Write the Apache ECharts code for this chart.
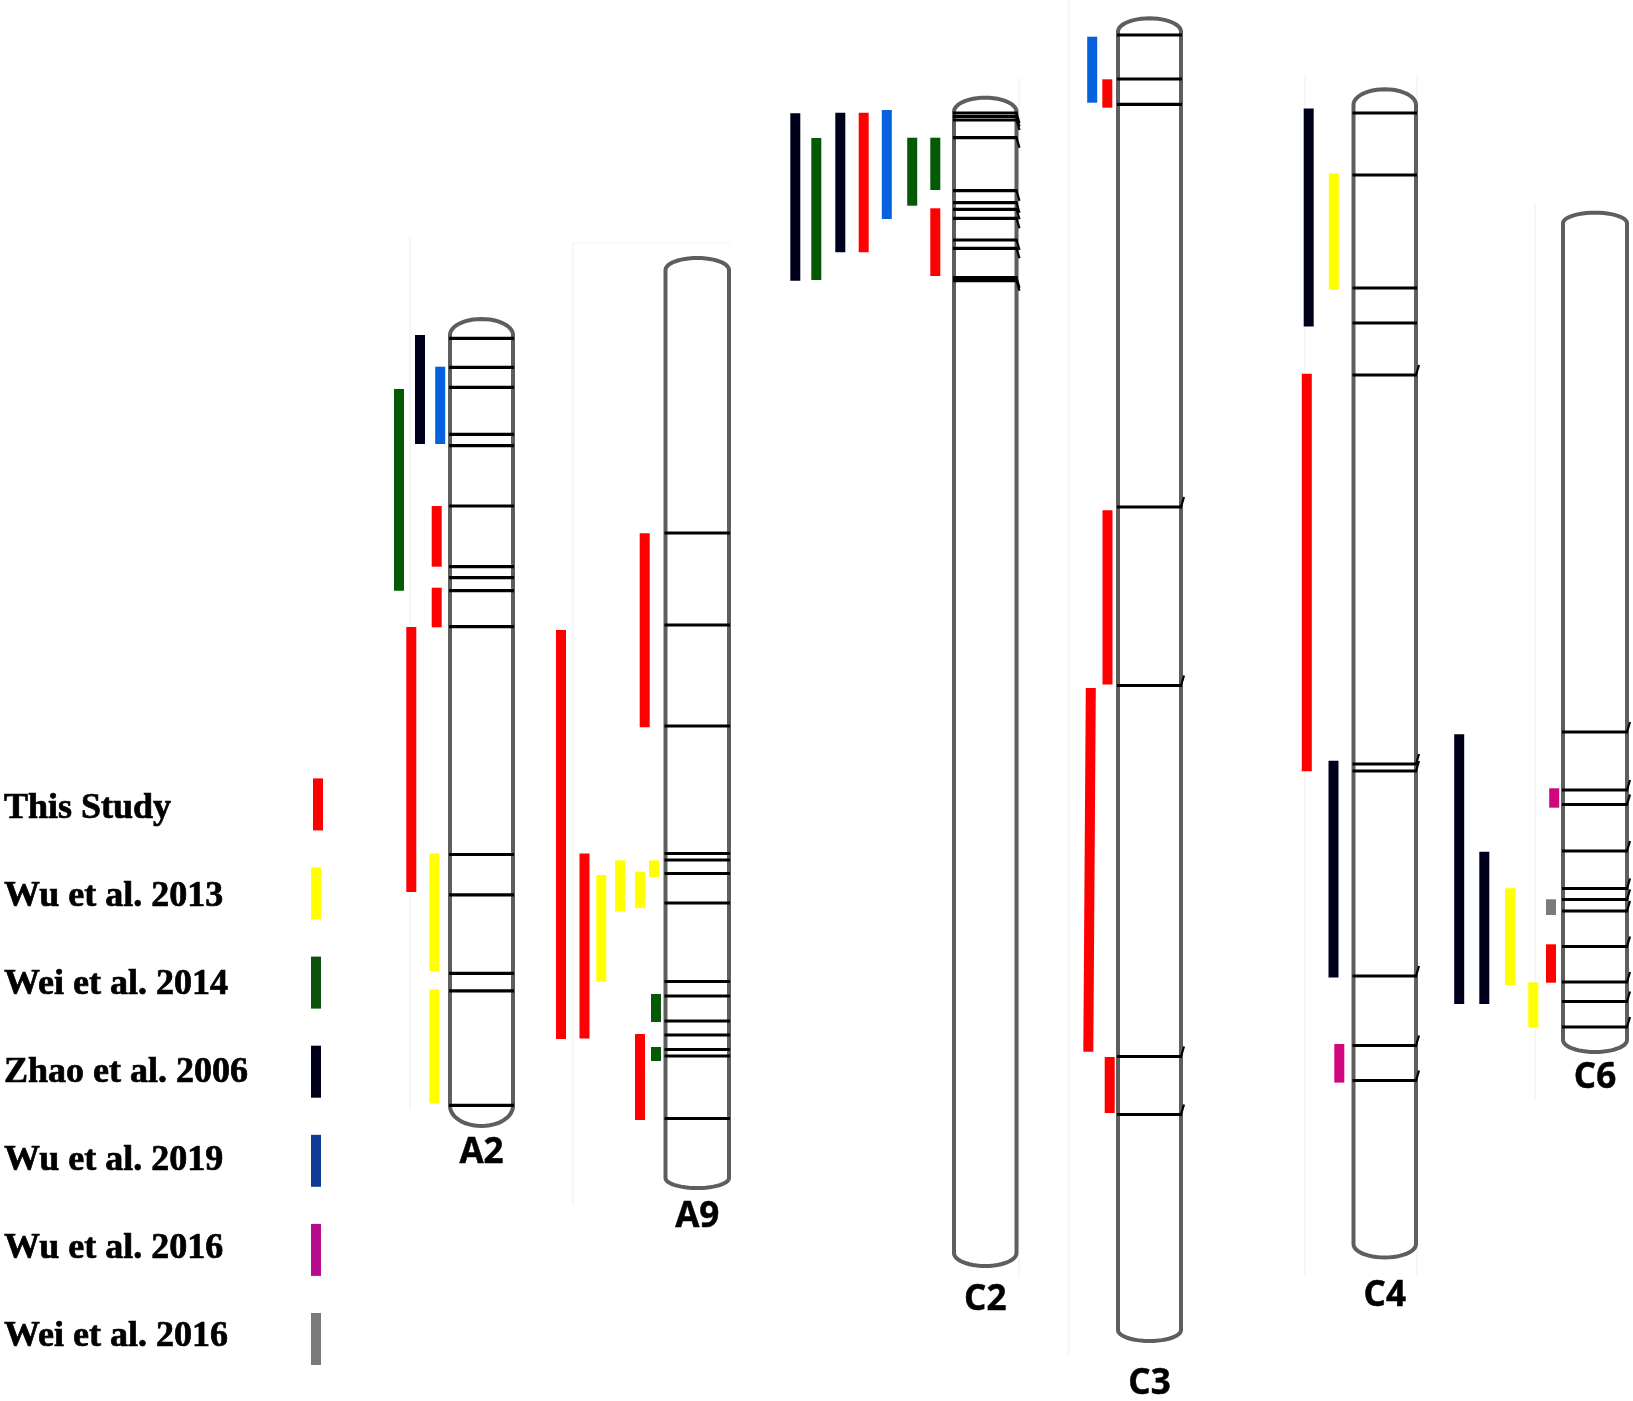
<!DOCTYPE html>
<html><head><meta charset="utf-8">
<script src="https://cdn.jsdelivr.net/npm/echarts@6/dist/echarts.min.js"></script>
<style>html,body{margin:0;padding:0;background:#fff}#c{width:1633px;height:1401px}</style>
</head><body><div id="c"></div>
<script>
// ---- legend / studies ----
const studies = ['This Study','Wu et al. 2013','Wei et al. 2014','Zhao et al. 2006','Wu et al. 2019','Wu et al. 2016','Wei et al. 2016'];
const legendColors = ['#ff0000','#ffff00','#0a520a','#00001c','#0d3c94','#b80b8e','#7a7a7a'];
const barColors    = ['#ff0000','#ffff00','#045a04','#00001c','#0661dc','#d1067f','#7a7a7a'];

// ---- chromosomes (map units along y, track units along x) ----
const chromNames  = ['A2','A9','C2','C3','C4','C6'];
const chromLeft   = [450, 665.5, 954, 1118, 1353.5, 1563];
const chromRight  = [513, 729, 1016.5, 1181, 1416, 1627];
const capTop      = [319, 258, 97.7, 18.3, 89.3, 212.7];
const armTop      = [335, 270, 111.7, 31.7, 104.8, 223.3];
const armBottom   = [1106, 1178, 1253, 1330, 1244, 1040];
const capBottom   = [1126, 1188, 1266, 1341, 1257.5, 1052];
const labelPos    = [1153, 1217, 1300, 1384, 1296, 1078];

// ---- marker bands ----
const bandsA2 = [338.3, 367.3, 387.3, 434.3, 445.7, 506, 566.7, 577.7, 590.7, 626.7, 854.5, 894.8, 973.4, 990.9, 1105.3];
const bandsA9 = [533, 625, 726, 853.5, 860, 873.5, 903, 981.5, 996, 1021, 1035, 1049.5, 1056, 1118.5];
const bandsC2 = [113, 116.5, 120, 137.7, 190.7, 202.7, 209.3, 218.3, 240, 248.3, 277.7, 280.7];
const bandsC3 = [35, 79, 104.3, 507, 685.5, 1056.5, 1114.5];
const bandsC4 = [113, 175, 288, 323, 375, 764, 771, 976, 1045.5, 1080.5];
const bandsC6 = [732, 790, 804.5, 851, 888.5, 899.5, 911, 946.5, 982, 1001.5, 1027];

// ---- QTL intervals: [study, track, start, end, (track at end)] ----
const qtlA2 = [[3,420,335,444],[4,440.2,366.7,444],[2,399,389,590.7],[0,436.7,506,566.7],[0,436.7,587.7,627.3],[0,411.3,627,892],[1,434.3,853.4,971],[1,434.3,989.5,1103.5]];
const qtlA9 = [[0,561,630,1039],[0,584.5,853.4,1038.6],[1,601.3,875,981.5],[1,620,860.4,911.3],[1,640,871.7,907.8],[1,654,860.4,877],[2,656,994,1022],[2,656,1047,1061],[0,640,1034,1120],[0,644.7,533.3,727.2]];
const qtlC2 = [[3,795.3,113.3,280.7],[2,816.3,138,280],[3,840.3,112.7,252.3],[0,863.7,112.7,252.3],[4,886.8,110,219],[2,912.2,137.7,205.7],[2,935.3,137.7,190],[0,935.3,208.3,276]];
const qtlC3 = [[4,1092.2,36.7,102.7],[0,1107.3,79.3,107.7],[0,1107.5,510.3,684.4],[0,1090.8,688,1051.8,1088.3],[0,1109.7,1057,1113]];
const qtlC4 = [[3,1308.7,108.6,326.6],[1,1333.8,173.3,289.8],[0,1306.8,373.8,771.2],[3,1333.5,760.8,977.4],[5,1339.3,1044,1082.6]];
const qtlC6 = [[3,1459.2,734.3,1004],[3,1484.3,851.7,1004],[1,1510,888.3,985],[1,1533.3,982.3,1027.3],[5,1554.2,788.3,807.7],[6,1551,899.3,915],[0,1551,944.3,982.7]];

const allBands = [bandsA2, bandsA9, bandsC2, bandsC3, bandsC4, bandsC6];
const allQtl = [qtlA2, qtlA9, qtlC2, qtlC3, qtlC4, qtlC6];
const tailDir = [0, 0, 1, -1, -1, -1];
const tailFrom = [1e9, 1e9, 0, 400, 370, 0];

// faint frame lines of the assembled panels
const frames = [[410,236,410,1110],[573,243,573,1205],[573,243,730,243],[1019,78,1019,1278],[1069,0,1069,1355],[1305,74,1305,1275],[1417,74,1417,1275],[1535,203,1535,1100]];

function cubic(p0,p1,p2,p3,n){const out=[];for(let k=0;k<=n;k++){const t=k/n,u=1-t;out.push([u*u*u*p0[0]+3*u*u*t*p1[0]+3*u*t*t*p2[0]+t*t*t*p3[0],u*u*u*p0[1]+3*u*u*t*p1[1]+3*u*t*t*p2[1]+t*t*t*p3[1]]);}return out;}

const BAR_W = 10;
const K = 0.5523;

const option = {
  animation: false,
  backgroundColor: '#ffffff',
  grid: {left:0, right:0, top:0, bottom:0, containLabel:false},
  xAxis: {type:'value', min:0, max:1633, show:false},
  yAxis: {type:'value', min:0, max:1401, inverse:true, show:false},
  series: [
    { // frames
      type:'custom', z:1, data: frames.map((f,i)=>[i]),
      renderItem:(params, api)=>{
        const f = frames[params.dataIndex];
        const a = api.coord([f[0],f[1]]), b = api.coord([f[2],f[3]]);
        return {type:'line', shape:{x1:a[0],y1:a[1],x2:b[0],y2:b[1]}, style:{stroke:'#f1f1f1', lineWidth:1.2}};
      }
    },
    { // chromosome outlines + labels
      type:'custom', z:3, data: chromNames.map((n,i)=>[i]),
      renderItem:(params, api)=>{
        const i = params.dataIndex;
        const xl = chromLeft[i], xr = chromRight[i], xc = (xl+xr)/2, rw = (xr-xl)/2;
        const hT = armTop[i]-capTop[i], hB = capBottom[i]-armBottom[i];
        let pts = [];
        pts = pts.concat(cubic([xl,armTop[i]],[xl,armTop[i]-hT*K],[xc-rw*K,capTop[i]],[xc,capTop[i]],12));
        pts = pts.concat(cubic([xc,capTop[i]],[xc+rw*K,capTop[i]],[xr,armTop[i]-hT*K],[xr,armTop[i]],12));
        pts = pts.concat(cubic([xr,armBottom[i]],[xr,armBottom[i]+hB*K],[xc+rw*K,capBottom[i]],[xc,capBottom[i]],12));
        pts = pts.concat(cubic([xc,capBottom[i]],[xc-rw*K,capBottom[i]],[xl,armBottom[i]+hB*K],[xl,armBottom[i]],12));
        const pp = pts.map(p=>api.coord(p));
        const lc = api.coord([xc, labelPos[i]]);
        return {type:'group', children:[
          {type:'polygon', shape:{points:pp}, style:{fill:'none', stroke:'#5e5e5e', lineWidth:4}},
          {type:'text', style:{text:chromNames[i], x:lc[0], y:lc[1], align:'center', verticalAlign:'middle', font:'bold 35px "Open Sans", sans-serif', fill:'#000', stroke:'#000', lineWidth:0.5}}
        ]};
      }
    },
    { // marker bands
      type:'custom', z:4, data: chromNames.map((n,i)=>[i]),
      renderItem:(params, api)=>{
        const i = params.dataIndex;
        const children = [];
        allBands[i].forEach(y=>{
          const a = api.coord([chromLeft[i], y]), b = api.coord([chromRight[i], y]);
          children.push({type:'line', shape:{x1:a[0]-1,y1:a[1],x2:b[0]+1,y2:b[1]}, style:{stroke:'#000', lineWidth:3.2}});
          if (tailDir[i] !== 0 && y >= tailFrom[i]) {
            const c = api.coord([chromRight[i]+3, y + tailDir[i]*10]);
            children.push({type:'line', shape:{x1:b[0],y1:b[1],x2:c[0],y2:c[1]}, style:{stroke:'#000', lineWidth:2.2}});
          }
        });
        return {type:'group', children};
      }
    },
    { // QTL intervals
      type:'custom', z:5, data: chromNames.map((n,i)=>[i]),
      renderItem:(params, api)=>{
        const i = params.dataIndex;
        const children = allQtl[i].map(q=>{
          const xt = q[1], xb = q.length > 4 ? q[4] : q[1];
          const p1 = api.coord([xt-BAR_W/2, q[2]]), p2 = api.coord([xt+BAR_W/2, q[2]]);
          const p3 = api.coord([xb+BAR_W/2, q[3]]), p4 = api.coord([xb-BAR_W/2, q[3]]);
          return {type:'polygon', shape:{points:[p1,p2,p3,p4]}, style:{fill:barColors[q[0]], stroke:null}};
        });
        return {type:'group', children};
      }
    },
    { // legend
      type:'custom', z:6, data: studies.map((s,i)=>[i]),
      renderItem:(params, api)=>{
        const i = params.dataIndex;
        const sx = i === 0 ? 313 : 311;
        const a = api.coord([sx, 778.4 + i*89.1]), b = api.coord([sx+10, 778.4 + i*89.1 + 52]);
        const t = api.coord([4, 809 + i*88]);
        return {type:'group', children:[
          {type:'rect', shape:{x:a[0], y:a[1], width:b[0]-a[0], height:b[1]-a[1]}, style:{fill:legendColors[i]}},
          {type:'text', style:{text:studies[i], x:t[0], y:t[1], align:'left', verticalAlign:'middle', font:'bold 36px "Liberation Serif", "Times New Roman", serif', fill:'#000', stroke:'#000', lineWidth:0.7}}
        ]};
      }
    }
  ]
};
const chart = echarts.init(document.getElementById('c'), null, {renderer:'canvas'});
chart.setOption(option);
</script></body></html>
